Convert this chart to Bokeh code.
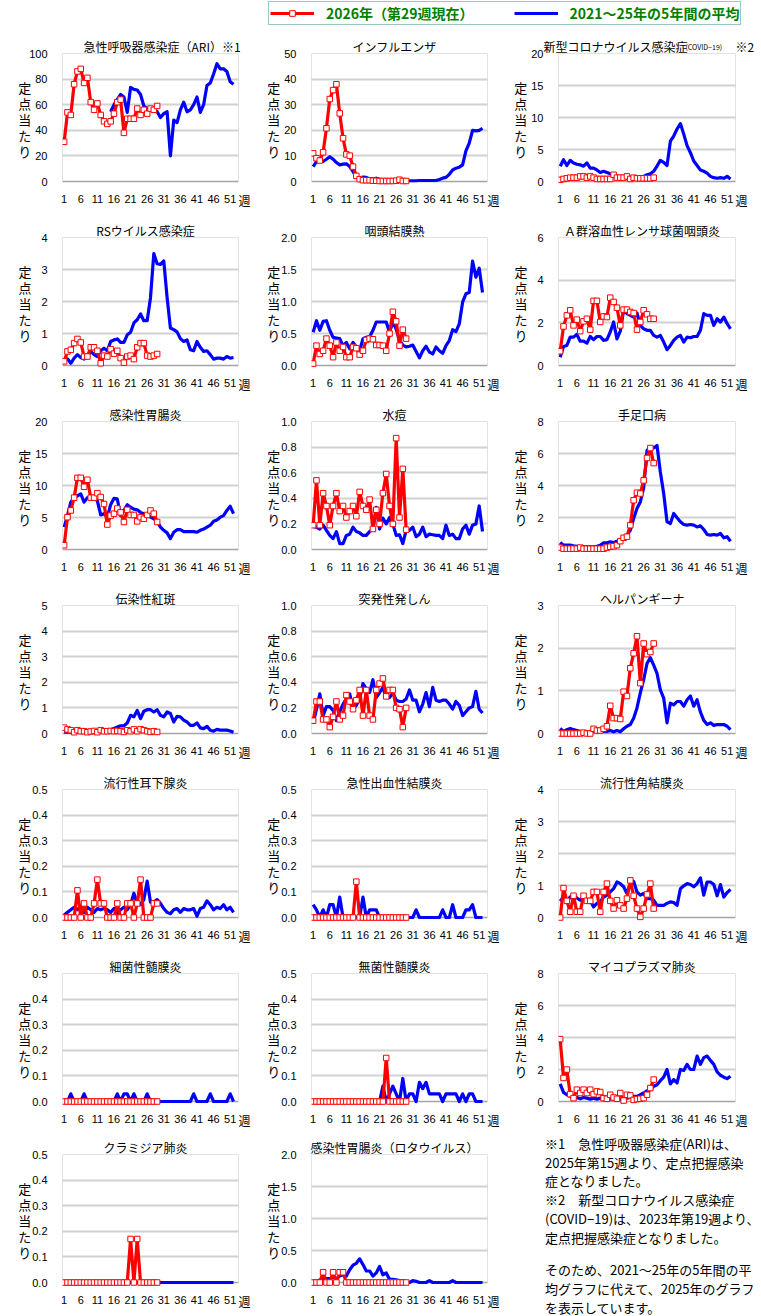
from bokeh.plotting import figure
from bokeh.models import (Range1d, FixedTicker, PrintfTickFormatter, Label,
                          BoxAnnotation, Legend, LegendItem, Div)
from bokeh.layouts import column, row
from bokeh.embed import file_html
from bokeh.resources import INLINE

# ---------------------------------------------------------------- data
weeks_2026 = list(range(1, 30))     # 2026, up to week 29
weeks_avg = list(range(1, 53))      # weeks 1..52
x_ticks = [1, 6, 11, 16, 21, 26, 31, 36, 41, 46, 51]

ari_2026 = [31, 54, 52, 76, 86, 88, 77, 81, 62, 56, 61, 52, 47, 45, 47, 53, 62, 64, 38, 49,
            49, 49, 57, 52, 56, 53, 57, 56, 59]
ari_avg_start = 15   # ARI reported from 2025 week 15
ari_avg = [54.5, 60, 64, 68, 66, 54, 73.5, 72, 71.5, 68, 59, 57, 56, 56, 54.5, 50, 53, 54.5,
           20, 48, 46, 56, 62, 54.5, 56, 60, 66, 54, 60, 75, 77, 84, 92, 88, 88, 86, 78, 76]

flu_2026 = [11, 9.1, 8.2, 11.4, 20.8, 32.2, 35.7, 38, 26.6, 16.9, 10.6, 10.1, 5.8, 2.2, 0.9,
            0.5, 0.5, 0.5, 0.3, 0.3, 0.2, 0.2, 0.2, 0.2, 0.2, 0.3, 0.7, 0.2, 0.2]
flu_avg = [5.8, 7.8, 8, 7.8, 8.7, 9.7, 8.7, 7.4, 6.5, 6.8, 6.9, 5.8, 3.9, 1.9, 1.3, 1.7, 1.6,
           1.0, 0.9, 1.3, 0.9, 0.6, 0.4, 0.4, 0.4, 0.4, 0.3, 0.3, 0.3, 0.3, 0.3, 0.3, 0.4, 0.4,
           0.4, 0.4, 0.4, 0.4, 0.8, 1.3, 1.6, 2.8, 4.5, 5.2, 5.6, 6.5, 12, 15, 20, 19.8, 20, 20.8]

covid_2026 = [0.26, 0.4, 0.5, 0.6, 0.6, 0.6, 0.8, 0.8, 0.6, 0.8, 0.6, 0.4, 0.4, 0.4, 0.4, 0.4,
              1.05, 0.6, 0.6, 0.6, 0.8, 0.4, 0.6, 0.5, 0.5, 0.5, 0.5, 0.5, 0.6]
covid_avg = [2.4, 3.4, 2.5, 3.3, 2.9, 2.7, 2.6, 2.4, 2.9, 2.1, 2.1, 1.8, 1.4, 1.6, 1.4, 1.2,
             0.95, 0.8, 0.6, 0.5, 0.5, 0.4, 0.5, 0.5, 0.6, 0.8, 1.05, 1.2, 1.6, 2.4, 3.3, 3.0,
             2.5, 6.3, 7.1, 8.2, 9.05, 7.4, 5.6, 4.5, 3.2, 2.5, 1.8, 1.6, 1.3, 0.8, 0.6, 0.5,
             0.6, 0.5, 0.8, 0.4]

rs_2026 = [0.13, 0.44, 0.49, 0.7, 0.83, 0.72, 0.28, 0.28, 0.57, 0.57, 0.46, 0.07, 0.31, 0.28,
           0.51, 0.37, 0.46, 0.23, 0.09, 0.28, 0.31, 0.2, 0.57, 0.7, 0.7, 0.31, 0.28, 0.31, 0.36]
rs_avg = [0.18, 0.21, 0.07, 0.23, 0.34, 0.25, 0.2, 0.28, 0.44, 0.34, 0.28, 0.46, 0.54, 0.46,
          0.75, 0.8, 0.83, 0.72, 0.72, 0.96, 1.04, 1.33, 1.43, 1.61, 1.4, 1.4, 2.12, 3.5, 3.18,
          3.16, 3.27, 2.12, 1.17, 1.12, 1.05, 0.84, 0.75, 0.8, 0.49, 0.46, 0.75, 0.57, 0.44,
          0.46, 0.34, 0.2, 0.23, 0.23, 0.2, 0.28, 0.23, 0.25]

pcf_2026 = [0.03, 0.31, 0.18, 0.23, 0.42, 0.31, 0.13, 0.36, 0.23, 0.29, 0.13, 0.13, 0.29, 0.27,
            0.17, 0.23, 0.4, 0.42, 0.41, 0.32, 0.32, 0.31, 0.23, 0.5, 0.84, 0.69, 0.31, 0.56, 0.42]
pcf_avg = [0.52, 0.7, 0.55, 0.69, 0.7, 0.55, 0.44, 0.43, 0.42, 0.31, 0.36, 0.26, 0.36, 0.29,
           0.23, 0.42, 0.44, 0.45, 0.55, 0.68, 0.68, 0.68, 0.68, 0.52, 0.68, 0.57, 0.39, 0.32,
           0.29, 0.3, 0.32, 0.22, 0.12, 0.23, 0.3, 0.21, 0.18, 0.29, 0.23, 0.19, 0.31, 0.39,
           0.56, 0.53, 0.65, 0.99, 1.12, 1.14, 1.63, 1.38, 1.52, 1.14]

gas_2026 = [0.67, 1.83, 2.35, 2.59, 1.88, 2.15, 1.61, 2.07, 2.19, 1.68, 3.03, 3.03, 2.04, 2.3,
            2.27, 3.18, 2.98, 2.71, 1.88, 2.62, 2.62, 2.51, 2.46, 1.68, 2.04, 2.59, 2.4, 2.19, 2.19]
gas_avg = [0.39, 0.89, 0.94, 1.33, 1.33, 1.46, 1.14, 1.14, 1.05, 1.36, 1.21, 1.36, 1.36, 1.18,
           1.21, 1.57, 2.04, 1.25, 1.61, 2.59, 2.43, 2.35, 2.27, 2.46, 1.88, 1.72, 1.65, 1.65,
           1.41, 1.33, 1.41, 1.1, 0.74, 0.94, 1.18, 1.33, 1.41, 1.1, 1.33, 1.3, 1.36, 1.36,
           1.65, 2.43, 2.35, 2.35, 1.88, 2.19, 2.04, 2.27, 1.96, 1.72]

ige_2026 = [0.67, 5.05, 6.1, 8.1, 11.2, 11.2, 9.8, 10.9, 8.1, 8.1, 8.8, 8.2, 7.1, 3.9, 5.3, 5.6,
            6.4, 5.8, 4.3, 6.2, 5.4, 5.4, 4.4, 5.05, 4.8, 5.4, 6.1, 5.6, 4.3]
ige_avg = [3.5, 5.3, 7.4, 8.1, 8.4, 8.7, 7.4, 8.1, 7.9, 8.1, 7.6, 5.4, 5.6, 5.05, 7.0, 8.0, 7.9,
           5.3, 6.1, 7.0, 6.6, 6.3, 6.2, 5.8, 5.6, 5.4, 5.05, 4.8, 4.4, 3.5, 3.0, 2.6, 1.7, 2.7,
           3.1, 3.1, 2.8, 2.8, 2.8, 2.8, 2.7, 3.0, 3.2, 3.5, 3.8, 4.4, 4.6, 5.05, 5.3, 6.1,
           6.75, 5.6]

vari_2026 = [0.19, 0.54, 0.19, 0.44, 0.34, 0.19, 0.34, 0.44, 0.3, 0.34, 0.25, 0.3, 0.34, 0.26,
             0.45, 0.34, 0.31, 0.39, 0.16, 0.31, 0.2, 0.44, 0.59, 0.34, 0.2, 0.87, 0.25, 0.63, 0.155]
vari_avg = [0.18, 0.175, 0.16, 0.19, 0.15, 0.11, 0.085, 0.14, 0.046, 0.046, 0.11, 0.12, 0.175,
            0.14, 0.13, 0.11, 0.11, 0.14, 0.16, 0.33, 0.16, 0.245, 0.2, 0.25, 0.2, 0.11, 0.115,
            0.046, 0.15, 0.15, 0.175, 0.1, 0.12, 0.175, 0.1, 0.12, 0.115, 0.11, 0.11, 0.085,
            0.19, 0.11, 0.12, 0.085, 0.085, 0.16, 0.19, 0.12, 0.19, 0.2, 0.34, 0.14]

hfmd_2026 = [0.12, 0.05, 0.05, 0.05, 0.05, 0.05, 0.12, 0.05, 0.05, 0.05, 0.05, 0.05, 0.05, 0.05,
             0.12, 0.17, 0.2, 0.27, 0.52, 0.73, 0.8, 1.52, 3.08, 3.55, 3.5, 4.32, 5.72, 6.34, 5.4]
hfmd_avg = [0.44, 0.27, 0.27, 0.27, 0.23, 0.2, 0.2, 0.17, 0.17, 0.17, 0.17, 0.2, 0.27, 0.42,
            0.42, 0.48, 0.44, 0.52, 0.58, 0.69, 0.9, 1.2, 1.93, 2.56, 2.97, 3.85, 6.2, 6.4, 6.34,
            6.5, 4.84, 3.5, 1.73, 1.62, 2.25, 1.98, 1.73, 1.56, 1.52, 1.56, 1.52, 1.41, 1.48,
            1.25, 0.94, 0.9, 0.94, 0.9, 1.0, 0.73, 0.8, 0.52]

fifth_2026 = [0.23, 0.16, 0.13, 0.05, 0.13, 0.09, 0.09, 0.05, 0.08, 0.1, 0.05, 0.13, 0.09, 0.09,
              0.1, 0.09, 0.1, 0.09, 0.06, 0.13, 0.09, 0.16, 0.09, 0.17, 0.13, 0.09, 0.06, 0.09, 0.06]
fifth_avg = [0.05, 0.05, 0.05, 0.05, 0.05, 0.05, 0.05, 0.05, 0.05, 0.05, 0.06, 0.08, 0.1, 0.13,
             0.15, 0.2, 0.25, 0.3, 0.3, 0.41, 0.71, 0.65, 0.9, 0.58, 0.87, 0.93, 0.93, 0.84,
             0.93, 0.71, 0.65, 0.84, 0.78, 0.45, 0.67, 0.65, 0.52, 0.45, 0.32, 0.32, 0.41, 0.22,
             0.19, 0.28, 0.13, 0.09, 0.16, 0.13, 0.13, 0.13, 0.1, 0.05]

roseola_2026 = [0.1, 0.25, 0.25, 0.11, 0.11, 0.05, 0.13, 0.25, 0.11, 0.14, 0.3, 0.25, 0.19, 0.26,
                0.34, 0.14, 0.34, 0.14, 0.11, 0.34, 0.39, 0.43, 0.29, 0.34, 0.34, 0.2, 0.19,
                0.05, 0.2]
roseola_avg = [0.08, 0.19, 0.31, 0.14, 0.21, 0.21, 0.18, 0.1, 0.17, 0.23, 0.27, 0.31, 0.19,
               0.22, 0.27, 0.39, 0.35, 0.32, 0.42, 0.28, 0.32, 0.36, 0.28, 0.28, 0.32, 0.26,
               0.25, 0.25, 0.27, 0.34, 0.26, 0.26, 0.17, 0.23, 0.32, 0.21, 0.36, 0.26, 0.25,
               0.26, 0.26, 0.23, 0.19, 0.25, 0.22, 0.14, 0.17, 0.2, 0.21, 0.33, 0.19, 0.16]

herp_2026 = [0, 0, 0, 0, 0, 0, 0, 0.02, 0, 0, 0.11, 0.07, 0.07, 0.11, 0.17, 0.65, 0.36, 0.36,
             0.34, 0.98, 0.88, 1.53, 1.88, 2.28, 1.18, 2.11, 1.86, 1.91, 2.11]
herp_avg = [0.12, 0.05, 0.09, 0.12, 0.09, 0.07, 0.05, 0.04, 0.03, 0.05, 0.05, 0.05, 0.07, 0.05,
            0.05, 0.07, 0.04, 0.07, 0.04, 0.11, 0.17, 0.21, 0.36, 0.6, 0.95, 1.26, 1.64, 1.78,
            1.6, 1.41, 1.02, 0.83, 0.25, 0.71, 0.67, 0.75, 0.75, 0.64, 0.79, 0.88, 0.64, 0.79,
            0.5, 0.31, 0.21, 0.25, 0.19, 0.21, 0.21, 0.21, 0.17, 0.09]

mumps_2026 = [0, 0, 0, 0, 0.106, 0, 0.055, 0, 0, 0.055, 0.148, 0.055, 0.055, 0, 0, 0, 0.055, 0,
              0, 0.055, 0.055, 0, 0.055, 0.148, 0, 0, 0, 0.055, 0.055]
mumps_avg = [0.01, 0.02, 0.03, 0.04, 0.03, 0.045, 0.02, 0.04, 0.03, 0.02, 0.035, 0.03, 0.035,
             0.03, 0.02, 0.035, 0.015, 0.03, 0.04, 0.03, 0.05, 0.095, 0.055, 0.05, 0.07, 0.142,
             0.06, 0.06, 0.07, 0.055, 0.035, 0.02, 0.015, 0.03, 0.035, 0.02, 0.035, 0.03, 0.03,
             0.035, 0.005, 0.035, 0.04, 0.065, 0.05, 0.03, 0.04, 0.035, 0.05, 0.03, 0.04, 0.02]

ahc_2026 = [0, 0, 0, 0, 0, 0, 0, 0, 0, 0, 0, 0, 0, 0.14, 0, 0, 0, 0, 0, 0, 0, 0, 0, 0, 0, 0, 0,
            0, 0]
ahc_avg = [0.05, 0.03, 0, 0.03, 0, 0.05, 0.05, 0, 0.08, 0, 0, 0, 0, 0, 0, 0.08, 0, 0.03, 0.03,
           0.03, 0, 0, 0, 0, 0, 0, 0, 0, 0, 0, 0, 0.03, 0, 0, 0, 0, 0, 0, 0, 0.03, 0, 0, 0.05,
           0, 0, 0, 0.03, 0.03, 0.05, 0, 0, 0]

ekc_2026 = [0, 0.92, 0.52, 0.18, 0.68, 0.18, 0.18, 0.68, 0.52, 0.52, 0.8, 0.8, 0.18, 0.8, 1.06,
            0.52, 0.28, 0.54, 0.38, 0.28, 0.59, 1.16, 0.68, 0.28, 0.02, 0.28, 0.72, 1.06, 0.28]
ekc_avg = [0.51, 0.64, 0.49, 0.64, 0.72, 0.61, 0.54, 0.64, 0.49, 0.54, 0.33, 0.44, 0.49, 0.64,
           0.7, 0.8, 0.9, 1.11, 1.06, 0.96, 0.75, 1.06, 1.13, 0.8, 0.7, 0.75, 0.59, 0.59, 0.54,
           0.38, 0.38, 0.38, 0.44, 0.49, 0.47, 0.38, 0.9, 0.99, 1.06, 1.03, 0.96, 1.06, 1.24,
           0.7, 1.11, 1.11, 1.03, 0.68, 1.03, 0.64, 0.78, 0.88]

bmen_2026 = [0] * 29
bmen_avg = [0, 0, 0.03, 0, 0, 0, 0.03, 0, 0, 0, 0, 0, 0, 0, 0, 0, 0.03, 0, 0.03, 0.03, 0, 0.03,
            0, 0, 0, 0.03, 0, 0, 0, 0, 0, 0, 0, 0, 0, 0, 0, 0, 0, 0.03, 0, 0, 0, 0, 0.03, 0, 0,
            0, 0, 0, 0.03, 0]

amen_2026 = [0, 0, 0, 0, 0, 0, 0, 0, 0, 0, 0, 0, 0, 0, 0, 0, 0, 0, 0, 0, 0, 0, 0.17, 0, 0, 0,
             0, 0, 0]
amen_avg = [0, 0, 0, 0, 0, 0, 0, 0, 0, 0, 0, 0, 0, 0, 0, 0, 0, 0, 0, 0, 0, 0.06, 0, 0.03, 0.06,
            0.03, 0, 0.09, 0, 0.03, 0.03, 0, 0.075, 0.05, 0.075, 0.03, 0.03, 0.03, 0.03, 0,
            0.03, 0.03, 0.03, 0.03, 0, 0.03, 0, 0.03, 0.03, 0, 0, 0]

myco_2026 = [3.9, 1.47, 2.0, 0.46, 0.21, 0.74, 0.53, 0.74, 0.53, 0.74, 0.46, 0.63, 0.59, 0.21,
             0.17, 0.42, 0.25, 0.17, 0.53, 0.06, 0.42, 0.38, 0.1, 0.15, 0.17, 0.21, 0.42, 0.84, 1.37]
myco_avg = [1.1, 0.57, 0.42, 0.32, 0.21, 0.25, 0.17, 0.25, 0.21, 0.15, 0.21, 0.15, 0.21, 0.1,
            0.17, 0.15, 0.17, 0.21, 0.15, 0.17, 0.21, 0.25, 0.32, 0.32, 0.42, 0.53, 0.67, 0.74,
            0.95, 1.05, 1.3, 1.52, 2.0, 1.1, 1.37, 1.16, 2.0, 1.94, 2.32, 2.0, 2.0, 2.84, 2.32,
            2.74, 2.84, 2.57, 2.32, 1.85, 1.64, 1.52, 1.43, 1.58]

chlam_2026 = [0, 0, 0, 0, 0, 0, 0, 0, 0, 0, 0, 0, 0, 0, 0, 0, 0, 0, 0, 0, 0.17, 0, 0.17, 0, 0,
              0, 0, 0, 0]
chlam_avg = [0] * 52

rota_2026 = [0, 0, 0, 0.16, 0, 0, 0.16, 0, 0.16, 0.16, 0, 0, 0, 0, 0, 0, 0, 0, 0, 0, 0, 0, 0,
             0, 0, 0, 0, 0, 0]
rota_avg = [0.02, 0.02, 0.04, 0.06, 0.06, 0.06, 0.08, 0.06, 0.1, 0.12, 0.1, 0.2, 0.27, 0.3,
            0.37, 0.28, 0.18, 0.18, 0.1, 0.15, 0.25, 0.12, 0.15, 0.05, 0.05, 0.04, 0.03, 0.03,
            0.02, 0, 0.03, 0.02, 0, 0, 0, 0.03, 0, 0, 0, 0, 0, 0, 0.03, 0, 0, 0, 0, 0, 0, 0, 0, 0]

# (title, y max, y step, 2026 series, average series, first week of average)
panels = [
    ("急性呼吸器感染症（ARI）※1", 100, 20, ari_2026, ari_avg, ari_avg_start),
    ("インフルエンザ", 50, 10, flu_2026, flu_avg, 1),
    ("新型コロナウイルス感染症　　　　※2", 20, 5, covid_2026, covid_avg, 1),
    ("RSウイルス感染症", 4, 1, rs_2026, rs_avg, 1),
    ("咽頭結膜熱", 2.0, 0.5, pcf_2026, pcf_avg, 1),
    ("Ａ群溶血性レンサ球菌咽頭炎", 6, 2, gas_2026, gas_avg, 1),
    ("感染性胃腸炎", 20, 5, ige_2026, ige_avg, 1),
    ("水痘", 1.0, 0.2, vari_2026, vari_avg, 1),
    ("手足口病", 8, 2, hfmd_2026, hfmd_avg, 1),
    ("伝染性紅斑", 5, 1, fifth_2026, fifth_avg, 1),
    ("突発性発しん", 1.0, 0.2, roseola_2026, roseola_avg, 1),
    ("ヘルパンギーナ", 3, 1, herp_2026, herp_avg, 1),
    ("流行性耳下腺炎", 0.5, 0.1, mumps_2026, mumps_avg, 1),
    ("急性出血性結膜炎", 0.5, 0.1, ahc_2026, ahc_avg, 1),
    ("流行性角結膜炎", 4, 1, ekc_2026, ekc_avg, 1),
    ("細菌性髄膜炎", 0.5, 0.1, bmen_2026, bmen_avg, 1),
    ("無菌性髄膜炎", 0.5, 0.1, amen_2026, amen_avg, 1),
    ("マイコプラズマ肺炎", 8, 2, myco_2026, myco_avg, 1),
    ("クラミジア肺炎", 0.5, 0.1, chlam_2026, chlam_avg, 1),
    ("感染性胃腸炎（ロタウイルス）", 2.0, 0.5, rota_2026, rota_avg, 1),
]

RED = "#ff0000"
BLUE = "#0000ff"
JP = "Noto Sans CJK JP"
NUM = "Liberation Sans"

COL_W = [253, 247, 261]
COL_LEFT = [62, 58, 58]
COL_FRAME = [176, 176, 177]
PAD = 4          # pixels kept below the zero line so markers at 0 are not cut
AREA_H = 128     # pixels from 0 to the top of the value axis
LEGEND_H = 25


def side_label(p, place, **kw):
    """Text placed in a side panel, positioned in pixels from that panel."""
    p.add_layout(Label(x_units="screen", y_units="screen", text_font=JP,
                       text_color="black", **kw), place)


def tick_label_width(ymax, step):
    txt = ("%.1f" % ymax) if step < 1 else ("%d" % ymax)
    return sum(3.06 if c == "." else 6.12 for c in txt)


def make_panel(idx, title, ymax, step, cur, avg, avg_start):
    col = idx % 3
    rw = idx // 3
    fw = COL_FRAME[col]
    top = 28 if rw == 0 else 23
    bottom = 26 if rw == 5 else 29
    fh = AREA_H + PAD
    p = figure(width=COL_W[col], height=top + fh + bottom,
               x_range=Range1d(0.5, 53.5),
               y_range=Range1d(-ymax * PAD / AREA_H, ymax),
               output_backend="svg", toolbar_location=None, title=None,
               min_border_left=COL_LEFT[col], min_border_right=COL_W[col] - COL_LEFT[col] - fw,
               min_border_top=top, min_border_bottom=bottom)
    p.background_fill_color = "white"
    p.border_fill_color = "white"
    p.outline_line_color = None

    n = int(round(ymax / step))
    p.yaxis.ticker = FixedTicker(ticks=[round(k * step, 3) for k in range(n + 1)])
    p.yaxis.formatter = PrintfTickFormatter(format="%.1f" if step < 1 else "%d")
    p.xaxis.ticker = FixedTicker(ticks=x_ticks)
    for ax in (p.xaxis[0], p.yaxis[0]):
        ax.axis_line_color = None
        ax.major_tick_line_color = None
        ax.minor_tick_line_color = None
        ax.major_label_text_font = NUM
        ax.major_label_text_font_size = "11px"
        ax.major_label_text_color = "black"
    p.xaxis.major_label_standoff = 3
    p.yaxis.major_label_standoff = 9

    # vertical caption, one character per line
    ya = p.yaxis[0]
    ya.axis_label = "定\n点\n当\nた\nり"
    ya.axis_label_orientation = "horizontal"
    ya.axis_label_text_font = JP
    ya.axis_label_text_font_style = "normal"
    ya.axis_label_text_font_size = "13px"
    ya.axis_label_text_color = "black"
    ya.axis_label_text_line_height = 0.85
    ya.axis_label_standoff = int(round(13.5 - tick_label_width(ymax, step)))

    p.xgrid.visible = False
    p.ygrid.grid_line_color = "#d2d2d2"
    p.ygrid.grid_line_width = 2

    box = BoxAnnotation(left=0.5, right=53.5, bottom=0, top=ymax, fill_alpha=0,
                        line_color="#3a3a3a", line_width=1, level="underlay")
    p.add_layout(box)

    p.line(weeks_avg[avg_start - 1:], avg, line_color=BLUE, line_width=3.2, line_join="round")
    p.line(weeks_2026, cur, line_color=RED, line_width=3.2, line_join="round")
    p.scatter(weeks_2026, cur, marker="square", size=5.5, fill_color="white",
              line_color=RED, line_width=1)

    # chart title above the plot area
    if idx == 0:
        side_label(p, "above", x=21, y=7, text=title, text_align="left",
                   text_baseline="alphabetic", text_font_size="12px")
    elif idx == 2:
        side_label(p, "above", x=-15, y=7, text=title, text_align="left",
                   text_baseline="alphabetic", text_font_size="12px")
        # second text of the stack: its panel sits one title height higher
        side_label(p, "above", x=127, y=-10.4, text="(COVID−19)", text_align="left",
                   text_baseline="alphabetic", text_font_size="7px")
    else:
        side_label(p, "above", x=fw / 2 - 5, y=7, text=title, text_align="center",
                   text_baseline="alphabetic", text_font_size="12px")

    # week unit at the end of the horizontal axis
    side_label(p, "right", x=0, y=PAD - 19, text="週", text_align="left",
               text_baseline="middle", text_font_size="12px")
    return p


plots = [make_panel(i, *cfg) for i, cfg in enumerate(panels)]

# ---------------------------------------------------------------- legend strip
lg = figure(width=761, height=LEGEND_H, x_range=Range1d(0, 1), y_range=Range1d(0, 1),
            output_backend="svg", toolbar_location=None, min_border=0,
            x_axis_type=None, y_axis_type=None, title=None)
lg.outline_line_color = None
# swatch renderers sit outside the visible range; only their legend glyphs show
r_line = lg.line([-5, -4], [-5, -5], line_color=RED, line_width=3.2)
r_mark = lg.scatter([-5], [-5], marker="square", size=5.5, fill_color="white", line_color=RED)
b_line = lg.line([-5, -4], [-5, -5], line_color=BLUE, line_width=3.2)
legend = Legend(items=[LegendItem(label="2026年（第29週現在）", renderers=[r_line, r_mark]),
                       LegendItem(label="2021～25年の5年間の平均", renderers=[b_line])],
                orientation="horizontal", location=(268, 0), padding=1, spacing=40,
                glyph_width=44, glyph_height=14, label_height=14, label_standoff=12,
                margin=0, border_line_color="#2f8f8f", border_line_width=1.5,
                label_text_font=JP, label_text_font_style="bold",
                label_text_font_size="14px", label_text_color="#008000",
                background_fill_color="white", background_fill_alpha=1)
lg.add_layout(legend, "center")

# ---------------------------------------------------------------- notes
notes_html = (
    "<div style=\"font-family:'Noto Sans CJK JP';font-size:13px;line-height:18.7px;"
    "color:#000;padding:4px 0 0 45px;white-space:nowrap;\">"
    "<div>※1　急性呼吸器感染症(ARI)は、</div>"
    "<div>2025年第15週より、定点把握感染</div>"
    "<div>症となりました。</div>"
    "<div>※2　新型コロナウイルス感染症</div>"
    "<div>(COVID−19)は、2023年第19週より、</div>"
    "<div>定点把握感染症となりました。</div>"
    "<div style=\"margin-top:14px;\">そのため、2021～25年の5年間の平</div>"
    "<div>均グラフに代えて、2025年のグラフ</div>"
    "<div>を表示しています。</div>"
    "</div>"
)
notes = Div(text=notes_html, width=261, height=185, margin=(0, 0, 0, 0))

rows = [row(*plots[i:i + 3]) for i in range(0, 18, 3)]
rows.append(row(plots[18], plots[19], notes))
page = column(lg, *rows)

open("out.html", "w").write(file_html(page, INLINE))
